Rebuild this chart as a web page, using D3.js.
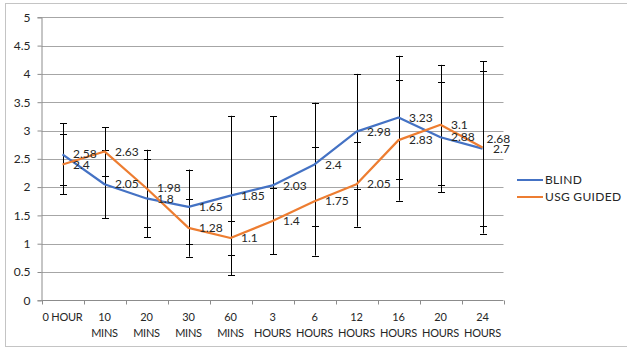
<!DOCTYPE html>
<html>
<head>
<meta charset="utf-8">
<script src="https://cdn.jsdelivr.net/npm/d3@7"></script>
<style>
  html, body { margin: 0; padding: 0; background: #fff; }
  svg { display: block; }
  text { font-family: Lato, "Open Sans", sans-serif; fill: #262626; }
</style>
</head>
<body>
<svg id="chart" width="627" height="348"></svg>
<script>
// ---- data ----
const categories = ["0 HOUR", "10 MINS", "20 MINS", "30 MINS", "60 MINS", "3 HOURS", "6 HOURS", "12 HOURS", "16 HOURS", "20 HOURS", "24 HOURS"];
const blindValues = [2.58, 2.05, 1.8, 1.65, 1.85, 2.03, 2.4, 2.98, 3.23, 2.88, 2.68];
const blindSD     = [0.55, 0.60, 0.69, 0.66, 1.41, 1.22, 1.09, 1.02, 1.09, 0.97, 1.37];
const usgValues   = [2.4, 2.63, 1.98, 1.28, 1.1, 1.4, 1.75, 2.05, 2.83, 3.1, 2.7];
const usgSD       = [0.53, 0.43, 0.68, 0.51, 0.30, 0.58, 0.96, 0.75, 1.07, 1.06, 1.52];
const yTicks = [0, 0.5, 1, 1.5, 2, 2.5, 3, 3.5, 4, 4.5, 5];
const seriesNames = ["BLIND", "USG GUIDED"];

const colors = { "BLIND": "#4472C4", "USG GUIDED": "#ED7D31" };
const series = [
  { name: seriesNames[0], values: blindValues, sd: blindSD },
  { name: seriesNames[1], values: usgValues, sd: usgSD }
];

const svg = d3.select("#chart");

// outer frame
svg.append("rect").attr("x", 5.5).attr("y", 3.5).attr("width", 660).attr("height", 343)
  .attr("fill", "none").attr("stroke", "#c4c4c4").attr("stroke-width", 1);

const x = d3.scaleBand().domain(categories).range([41.5, 503.5]).padding(0);
const cx = c => x(c) + x.bandwidth() / 2;
const y = d3.scaleLinear().domain([0, 5]).range([300.3, 17.3]);

// gridlines
svg.append("g").selectAll("line").data(yTicks.filter(t => t > 0)).join("line")
  .attr("x1", 41.5).attr("x2", 503.5)
  .attr("y1", d => Math.round(y(d)) + 0.5).attr("y2", d => Math.round(y(d)) + 0.5)
  .attr("stroke", "#a6a6a6").attr("stroke-width", 1);

// y axis
const yAxis = d3.axisLeft(y).tickValues(yTicks).tickSize(4).tickPadding(7)
  .tickFormat(d => String(d));
const gy = svg.append("g").attr("transform", "translate(41.5,0)").call(yAxis);
gy.select(".domain").attr("stroke", "#8c8c8c");
gy.selectAll(".tick line").attr("stroke", "#8c8c8c");
gy.selectAll(".tick text").attr("font-size", 12).attr("fill", "#262626")
  .style("font-family", "Lato, sans-serif");

// x axis line and ticks at category boundaries
const xBase = Math.round(y(0)) + 0.5;
svg.append("line").attr("x1", 41.5).attr("x2", 503.5).attr("y1", xBase).attr("y2", xBase)
  .attr("stroke", "#8c8c8c");
const bounds = categories.map(c => x(c)).concat([x(categories[categories.length - 1]) + x.bandwidth()]);
svg.append("g").selectAll("line").data(bounds).join("line")
  .attr("x1", d => Math.round(d) + 0.5).attr("x2", d => Math.round(d) + 0.5)
  .attr("y1", xBase).attr("y2", xBase + 4).attr("stroke", "#8c8c8c");

// x labels (two lines)
const xl = svg.append("g").selectAll("text").data(categories).join("text")
  .attr("text-anchor", "middle").attr("font-size", 11).attr("letter-spacing", "-0.25px");
xl.each(function(c) {
  const parts = c.startsWith("0 ") ? [c] : c.split(" ");
  const t = d3.select(this);
  parts.forEach((p, i) => {
    t.append("tspan").attr("x", cx(c)).attr("y", 321 + i * 16).text(p);
  });
});

// error bars
const eb = svg.append("g");
series.forEach(s => {
  categories.forEach((c, i) => {
    const v = s.values[i], sd = s.sd[i];
    const xx = Math.round(cx(c)) + 0.5;
    eb.append("line").attr("x1", xx).attr("x2", xx)
      .attr("y1", y(v + sd)).attr("y2", y(v - sd)).attr("stroke", "#000").attr("stroke-width", 1);
    [v + sd, v - sd].forEach(e => {
      eb.append("line").attr("x1", xx - 3.5).attr("x2", xx + 3.5)
        .attr("y1", Math.round(y(e)) + 0.5).attr("y2", Math.round(y(e)) + 0.5)
        .attr("stroke", "#000").attr("stroke-width", 1);
    });
  });
});

// lines
const line = d3.line().x((d, i) => cx(categories[i])).y(d => y(d));
series.forEach(s => {
  svg.append("path").datum(s.values).attr("d", line)
    .attr("fill", "none").attr("stroke", colors[s.name]).attr("stroke-width", 2.2)
    .attr("stroke-linejoin", "round");
});

// data labels
series.forEach((s, si) => {
  svg.append("g").selectAll("text").data(s.values).join("text")
    .attr("x", (d, i) => {
      let dx = 10.5;
      if (si === 0 && i === categories.length - 1) dx = 4;
      return cx(categories[i]) + dx;
    })
    .attr("y", (d, i) => {
      let dy = 0;
      if (si === 0 && i === categories.length - 1) dy = -9.5;
      if (si === 1 && i === categories.length - 1) dy = 1.5;
      return y(d) + dy;
    })
    .attr("dy", "0.35em").attr("font-size", 12).attr("fill", "#262626")
    .text(d => String(d));
});

// legend
const lg = svg.append("g");
series.forEach((s, i) => {
  const ly = 180 + i * 17;
  lg.append("line").attr("x1", 517).attr("x2", 543).attr("y1", ly).attr("y2", ly)
    .attr("stroke", colors[s.name]).attr("stroke-width", 2);
  lg.append("text").attr("x", 545).attr("y", ly).attr("dy", "0.35em")
    .attr("font-size", 12).attr("letter-spacing", "0.3px").text(s.name);
});
</script>
</body>
</html>
